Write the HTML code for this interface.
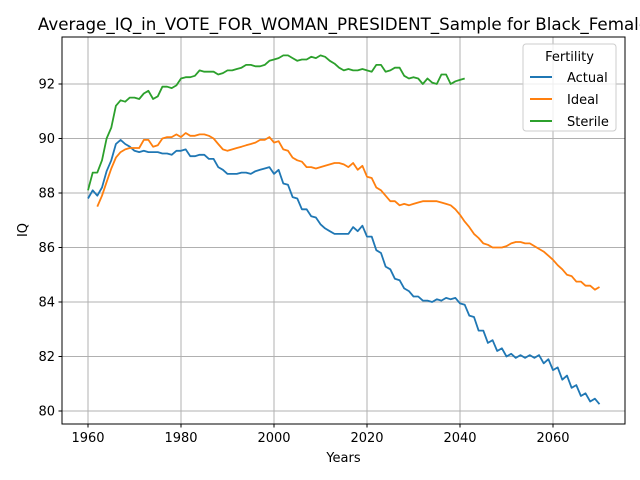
<!DOCTYPE html>
<html><head><meta charset="utf-8"><style>
body{margin:0;background:#fff}
svg{display:block;font-family:"DejaVu Sans","Liberation Sans",sans-serif}
</style></head><body>
<svg id="chart" width="640" height="480" viewBox="0 0 640 480">
<rect width="640" height="480" fill="#fff"/>
<text x="343.5" y="30" font-size="16.7" text-anchor="middle" fill="#000">Average_IQ_in_VOTE_FOR_WOMAN_PRESIDENT_Sample for Black_Female</text>
<g id="grid"></g>
<g id="series"></g>
<rect x="62" y="37" width="563" height="387" fill="none" stroke="#000" stroke-width="1"/>
<g id="ticks" font-size="13" fill="#000"></g>
<text x="343.5" y="462" font-size="13" text-anchor="middle">Years</text>
<text x="27" y="230" font-size="13" text-anchor="middle" transform="rotate(-90 27 230)">IQ</text>
<g>
<rect x="523" y="44" width="93" height="87" rx="3" fill="#fff" fill-opacity="0.8" stroke="#ccc"/>
<text x="569.5" y="61" font-size="13" text-anchor="middle">Fertility</text>
<g><line x1="530" y1="77" x2="552" y2="77" stroke="#1f77b4" stroke-width="2"/><text x="567" y="82" font-size="13">Actual</text></g>
<g><line x1="530" y1="99" x2="552" y2="99" stroke="#ff7f0e" stroke-width="2"/><text x="567" y="104" font-size="13">Ideal</text></g>
<g><line x1="530" y1="121" x2="552" y2="121" stroke="#2ca02c" stroke-width="2"/><text x="567" y="126" font-size="13">Sterile</text></g>
</g>
</svg>
<script>
const xTicks=[1960,1980,2000,2020,2040,2060];
const yTicks=[80,82,84,86,88,90,92];
const actualStart=1960;
const actual=[87.8,88.1,87.9,88.2,88.8,89.2,89.8,89.95,89.8,89.7,89.55,89.5,89.55,89.5,89.5,89.5,89.45,89.45,89.4,89.55,89.55,89.6,89.35,89.35,89.4,89.4,89.25,89.25,88.95,88.85,88.7,88.7,88.7,88.75,88.75,88.7,88.8,88.85,88.9,88.95,88.7,88.85,88.35,88.3,87.85,87.8,87.4,87.4,87.15,87.1,86.85,86.7,86.6,86.5,86.5,86.5,86.5,86.75,86.6,86.8,86.4,86.4,85.9,85.8,85.3,85.2,84.85,84.8,84.5,84.4,84.2,84.2,84.05,84.05,84.0,84.1,84.05,84.15,84.1,84.15,83.95,83.9,83.5,83.45,82.95,82.95,82.5,82.6,82.2,82.3,82.0,82.1,81.95,82.05,81.95,82.05,81.95,82.05,81.75,81.9,81.5,81.6,81.15,81.3,80.85,80.95,80.55,80.65,80.35,80.45,80.25];
const idealStart=1962;
const ideal=[87.5,87.9,88.4,88.9,89.3,89.5,89.6,89.65,89.65,89.65,89.95,89.95,89.7,89.75,90.0,90.05,90.05,90.15,90.05,90.2,90.1,90.1,90.15,90.15,90.1,90.0,89.8,89.6,89.55,89.6,89.65,89.7,89.75,89.8,89.85,89.95,89.95,90.05,89.85,89.9,89.6,89.55,89.3,89.2,89.15,88.95,88.95,88.9,88.95,89.0,89.05,89.1,89.1,89.05,88.95,89.1,88.85,89.0,88.6,88.55,88.2,88.1,87.9,87.7,87.7,87.55,87.6,87.55,87.6,87.65,87.7,87.7,87.7,87.7,87.65,87.6,87.55,87.4,87.2,86.95,86.75,86.5,86.35,86.15,86.1,86.0,86.0,86.0,86.05,86.15,86.2,86.2,86.15,86.15,86.05,85.95,85.85,85.7,85.55,85.35,85.2,85.0,84.95,84.75,84.75,84.6,84.6,84.45,84.55];
const sterileStart=1960;
const sterile=[88.1,88.75,88.75,89.2,90.0,90.4,91.2,91.4,91.35,91.5,91.5,91.45,91.65,91.75,91.45,91.55,91.9,91.9,91.85,91.95,92.2,92.25,92.25,92.3,92.5,92.45,92.45,92.45,92.35,92.4,92.5,92.5,92.55,92.6,92.7,92.7,92.65,92.65,92.7,92.85,92.9,92.95,93.05,93.05,92.95,92.85,92.9,92.9,93.0,92.95,93.05,93.0,92.85,92.75,92.6,92.5,92.55,92.5,92.5,92.55,92.5,92.45,92.7,92.7,92.45,92.5,92.6,92.6,92.3,92.2,92.25,92.2,92.0,92.2,92.05,92.0,92.35,92.35,92.0,92.1,92.15,92.2];

const X=v=>88+(v-1960)*4.65;
const Y=v=>411-(v-80)*27.25;
const NS='http://www.w3.org/2000/svg';
const grid=document.getElementById('grid'),ticks=document.getElementById('ticks'),ser=document.getElementById('series');
function mk(tag,attrs,parent){const e=document.createElementNS(NS,tag);for(const k in attrs)e.setAttribute(k,attrs[k]);parent.appendChild(e);return e;}
xTicks.forEach(t=>{
  const g=mk('line',{x1:X(t),x2:X(t),y1:37,y2:424,stroke:'#b0b0b0','stroke-width':1},grid);
  
  
  mk('line',{x1:X(t),x2:X(t),y1:424,y2:427.5,stroke:'#000'},ticks);
  const tx=mk('text',{x:X(t),y:442,'text-anchor':'middle'},ticks);tx.textContent=t;
  
  
});
yTicks.forEach(t=>{
  const g=mk('line',{x1:62,x2:625,y1:Y(t),y2:Y(t),stroke:'#b0b0b0','stroke-width':1},grid);
  
  
  mk('line',{x1:58.5,x2:62,y1:Y(t),y2:Y(t),stroke:'#000'},ticks);
  const tx=mk('text',{x:55,y:Y(t)+4.5,'text-anchor':'end'},ticks);tx.textContent=t;
  
  
});
function line(data,start,color,name){
  const pts=data.map((v,i)=>X(start+i).toFixed(1)+','+Y(v).toFixed(1)).join(' ');
  const p=mk('polyline',{points:pts,fill:'none',stroke:color,'stroke-width':1.8,'stroke-linejoin':'round'},ser);
  
  
}
line(actual,actualStart,'#1f77b4','actual-line');
line(ideal,idealStart,'#ff7f0e','ideal-line');
line(sterile,sterileStart,'#2ca02c','sterile-line');
</script>
</body></html>
